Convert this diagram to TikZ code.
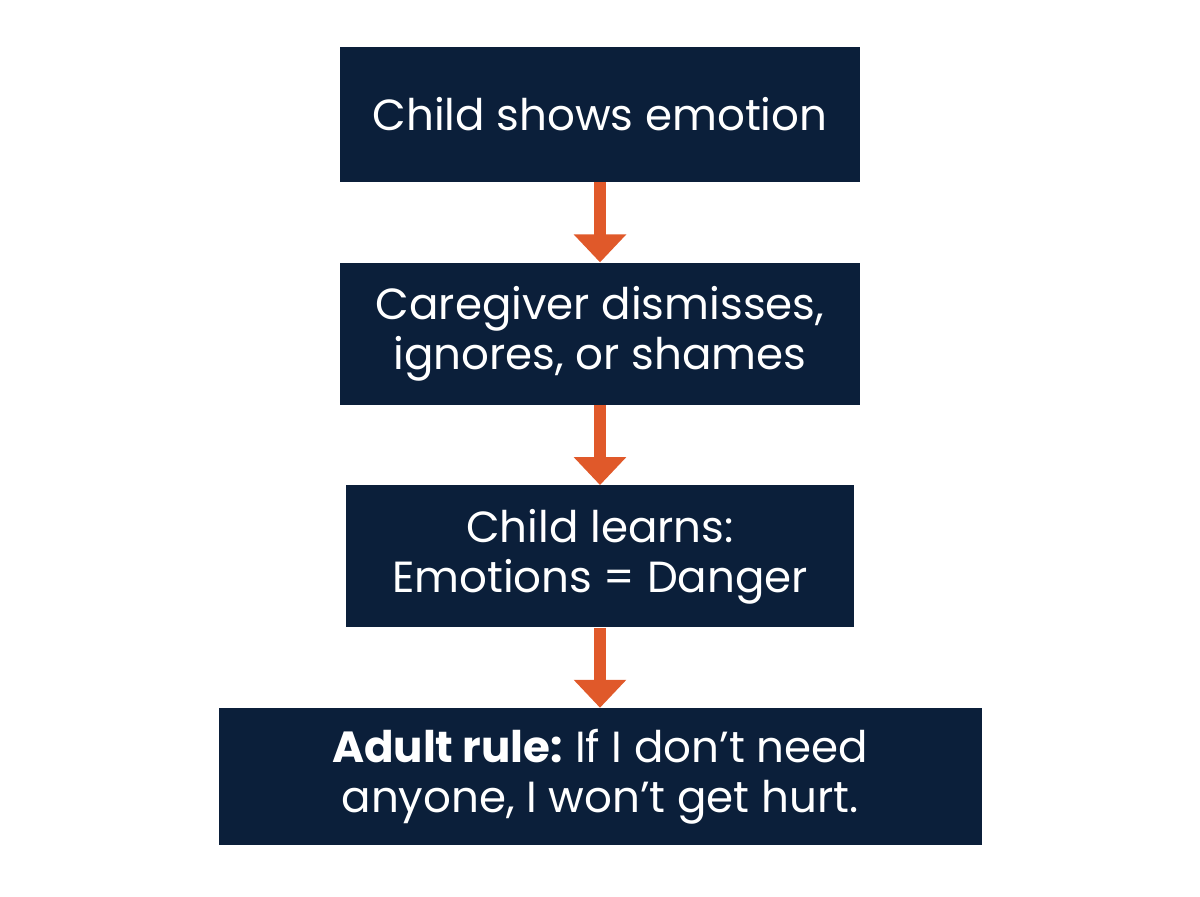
\documentclass[tikz,border=0pt]{standalone}
\usepackage{fontspec}
\setmainfont{Poppins}
\usetikzlibrary{positioning,arrows.meta}

\definecolor{boxnavy}{HTML}{0B1F3A}
\definecolor{arroworange}{HTML}{E0592A}

\begin{document}
\begin{tikzpicture}[
    node distance=1.6cm,
    stepbox/.style={fill=boxnavy,text=white,align=center,
        inner sep=0pt,font=\fontsize{24.8}{28.5}\selectfont},
    flowarrow/.style={draw=arroworange,line width=0.24cm,
        -{Triangle[width=1.02cm,length=0.56cm]}}
]

% Fix the page to the reference size.
\useasboundingbox (0,0) rectangle (24,-17.92);

% Draw the four steps, top to bottom.
\node[stepbox,minimum width=10.4cm,minimum height=2.7cm]
    (emotion) at (12,-2.29) {Child shows emotion};
\node[stepbox,minimum width=10.4cm,minimum height=2.84cm,
    below=of emotion]
    (dismiss) {Caregiver dismisses,\\ ignores, or shames};
\node[stepbox,minimum width=10.16cm,minimum height=2.84cm,
    below=of dismiss]
    (learns) {Child learns:\\ Emotions = Danger};
\node[stepbox,minimum width=15.26cm,minimum height=2.74cm,
    below=of learns]
    (rule) {\textbf{Adult rule:}\hspace{0.28em}If I don’t need\\ anyone, I won’t get hurt.};

% Arrows between the steps.
\foreach \a/\b in {emotion/dismiss,dismiss/learns,learns/rule} {
    \draw[flowarrow] (\a.south) -- (\b.north);
}

\end{tikzpicture}
\end{document}
